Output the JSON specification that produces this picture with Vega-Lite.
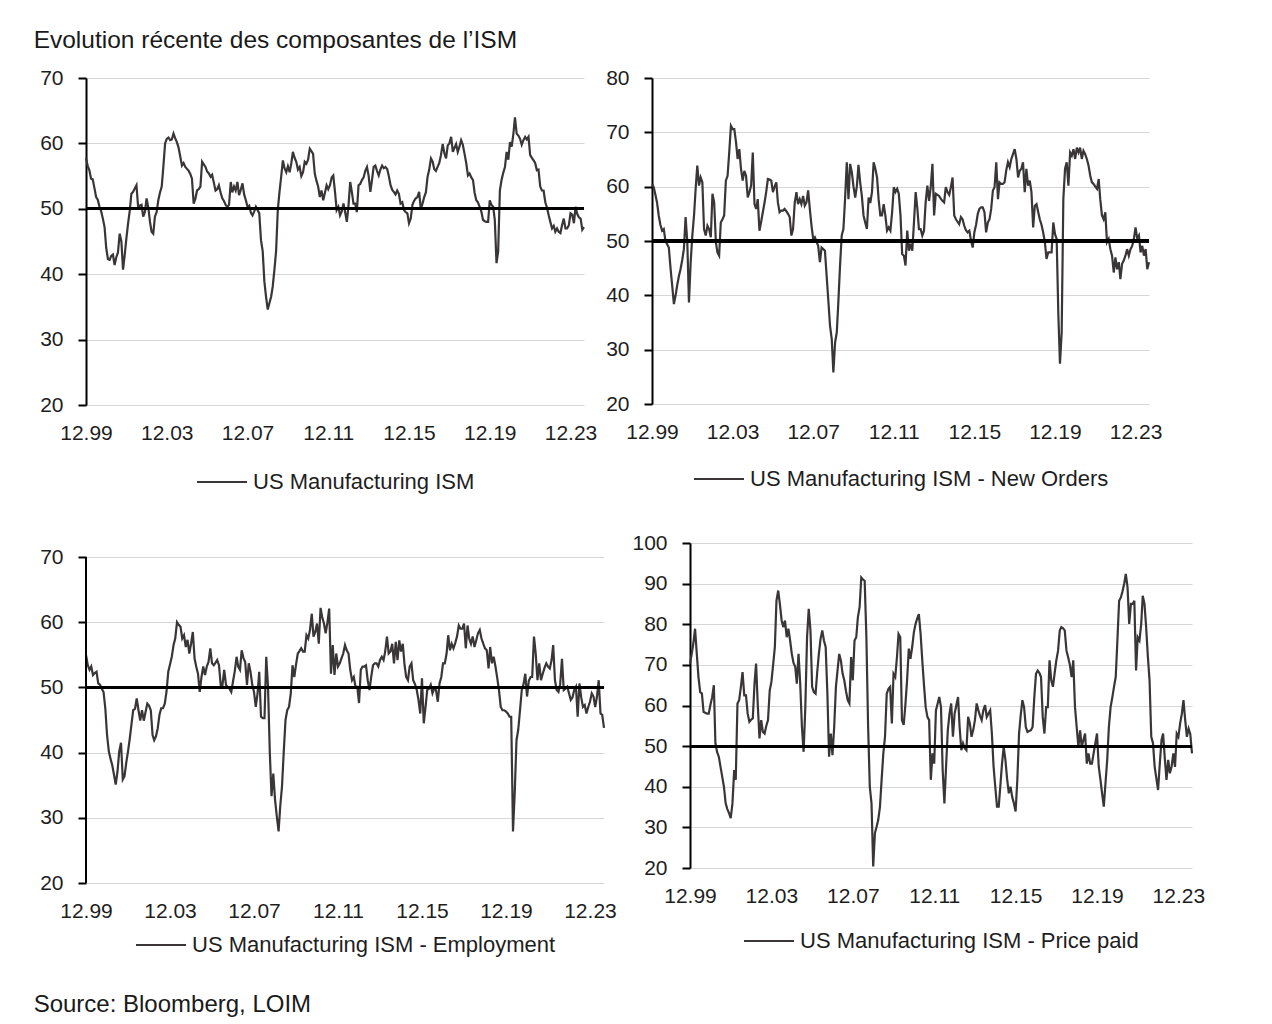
{
"$schema": "https://vega.github.io/schema/vega-lite/v6.json",
"background": "white",
"padding": {"left": 33, "top": 27, "right": 5, "bottom": 5},
"title": {"text": "Evolution récente des composantes de l’ISM", "anchor": "start", "fontSize": 24.5, "fontWeight": "normal", "color": "#1a1a1a", "offset": 14, "dx": 0},
"datasets": {"ism": [
{"d":"1999-12-01","ism":57.8,"no":60.5,"emp":55.0,"pp":70.3},
{"d":"2000-01-01","ism":56.5,"no":59.9,"emp":53.4,"pp":72.7},
{"d":"2000-02-01","ism":55.9,"no":58.5,"emp":52.7,"pp":75.5},
{"d":"2000-03-01","ism":54.6,"no":57.1,"emp":53.2,"pp":78.9},
{"d":"2000-04-01","ism":54.5,"no":54.7,"emp":51.9,"pp":72.7},
{"d":"2000-05-01","ism":53.2,"no":53.0,"emp":52.2,"pp":67.0},
{"d":"2000-06-01","ism":51.8,"no":51.9,"emp":52.4,"pp":63.3},
{"d":"2000-07-01","ism":51.4,"no":52.2,"emp":50.6,"pp":63.0},
{"d":"2000-08-01","ism":50.3,"no":50.0,"emp":50.4,"pp":58.4},
{"d":"2000-09-01","ism":49.6,"no":49.4,"emp":49.8,"pp":58.2},
{"d":"2000-10-01","ism":48.5,"no":48.8,"emp":49.3,"pp":58.0},
{"d":"2000-11-01","ism":47.2,"no":45.0,"emp":46.8,"pp":58.0},
{"d":"2000-12-01","ism":44.0,"no":41.8,"emp":42.7,"pp":60.1},
{"d":"2001-01-01","ism":42.3,"no":38.4,"emp":40.2,"pp":62.0},
{"d":"2001-02-01","ism":42.2,"no":40.0,"emp":39.0,"pp":65.0},
{"d":"2001-03-01","ism":42.8,"no":41.8,"emp":38.1,"pp":50.7},
{"d":"2001-04-01","ism":43.0,"no":43.5,"emp":36.6,"pp":48.5},
{"d":"2001-05-01","ism":41.4,"no":44.8,"emp":35.1,"pp":47.4},
{"d":"2001-06-01","ism":42.6,"no":46.5,"emp":37.1,"pp":44.9},
{"d":"2001-07-01","ism":43.3,"no":48.5,"emp":40.2,"pp":42.5},
{"d":"2001-08-01","ism":46.2,"no":54.4,"emp":41.5,"pp":40.0},
{"d":"2001-09-01","ism":45.0,"no":49.8,"emp":35.9,"pp":35.9},
{"d":"2001-10-01","ism":40.7,"no":38.7,"emp":36.4,"pp":34.5},
{"d":"2001-11-01","ism":43.0,"no":46.1,"emp":38.5,"pp":33.5},
{"d":"2001-12-01","ism":45.5,"no":51.0,"emp":40.2,"pp":32.3},
{"d":"2002-01-01","ism":47.8,"no":54.7,"emp":42.2,"pp":35.9},
{"d":"2002-02-01","ism":49.8,"no":59.9,"emp":44.5,"pp":44.1},
{"d":"2002-03-01","ism":52.3,"no":63.9,"emp":46.5,"pp":41.7},
{"d":"2002-04-01","ism":52.6,"no":60.2,"emp":46.7,"pp":60.5},
{"d":"2002-05-01","ism":53.1,"no":61.7,"emp":48.3,"pp":61.3},
{"d":"2002-06-01","ism":53.6,"no":60.8,"emp":46.5,"pp":64.5},
{"d":"2002-07-01","ism":50.3,"no":52.2,"emp":44.9,"pp":68.2},
{"d":"2002-08-01","ism":50.5,"no":51.0,"emp":46.5,"pp":62.5},
{"d":"2002-09-01","ism":50.6,"no":52.8,"emp":44.9,"pp":62.5},
{"d":"2002-10-01","ism":48.8,"no":52.2,"emp":46.2,"pp":58.0},
{"d":"2002-11-01","ism":49.5,"no":50.7,"emp":47.5,"pp":56.0},
{"d":"2002-12-01","ism":51.6,"no":58.7,"emp":47.2,"pp":56.5},
{"d":"2003-01-01","ism":50.2,"no":57.1,"emp":46.5,"pp":56.8},
{"d":"2003-02-01","ism":48.0,"no":49.8,"emp":42.7,"pp":65.4},
{"d":"2003-03-01","ism":46.5,"no":47.9,"emp":41.9,"pp":70.3},
{"d":"2003-04-01","ism":46.2,"no":47.3,"emp":42.5,"pp":60.0},
{"d":"2003-05-01","ism":48.8,"no":53.4,"emp":43.7,"pp":51.9},
{"d":"2003-06-01","ism":49.5,"no":54.0,"emp":45.8,"pp":56.4},
{"d":"2003-07-01","ism":51.3,"no":54.7,"emp":46.8,"pp":53.5},
{"d":"2003-08-01","ism":52.5,"no":61.1,"emp":46.8,"pp":53.1},
{"d":"2003-09-01","ism":53.4,"no":62.0,"emp":47.5,"pp":55.0},
{"d":"2003-10-01","ism":56.5,"no":66.3,"emp":49.3,"pp":56.4},
{"d":"2003-11-01","ism":60.0,"no":71.2,"emp":52.4,"pp":63.7},
{"d":"2003-12-01","ism":60.7,"no":70.6,"emp":53.5,"pp":65.8},
{"d":"2004-01-01","ism":60.9,"no":70.6,"emp":54.7,"pp":70.0},
{"d":"2004-02-01","ism":60.5,"no":68.2,"emp":56.5,"pp":74.4},
{"d":"2004-03-01","ism":60.6,"no":65.1,"emp":57.5,"pp":85.8},
{"d":"2004-04-01","ism":61.5,"no":66.9,"emp":60.0,"pp":88.3},
{"d":"2004-05-01","ism":60.8,"no":63.3,"emp":59.6,"pp":85.0},
{"d":"2004-06-01","ism":60.2,"no":61.1,"emp":59.3,"pp":81.0},
{"d":"2004-07-01","ism":59.4,"no":62.9,"emp":57.5,"pp":79.3},
{"d":"2004-08-01","ism":58.0,"no":62.0,"emp":58.0,"pp":80.9},
{"d":"2004-09-01","ism":56.6,"no":58.0,"emp":56.2,"pp":76.8},
{"d":"2004-10-01","ism":57.0,"no":59.0,"emp":57.3,"pp":78.9},
{"d":"2004-11-01","ism":56.4,"no":60.2,"emp":55.2,"pp":76.0},
{"d":"2004-12-01","ism":56.1,"no":66.3,"emp":56.7,"pp":72.7},
{"d":"2005-01-01","ism":55.8,"no":56.8,"emp":58.5,"pp":70.5},
{"d":"2005-02-01","ism":55.3,"no":55.9,"emp":54.4,"pp":69.5},
{"d":"2005-03-01","ism":54.6,"no":57.7,"emp":53.2,"pp":65.4},
{"d":"2005-04-01","ism":50.8,"no":51.9,"emp":52.1,"pp":72.7},
{"d":"2005-05-01","ism":51.5,"no":53.5,"emp":49.3,"pp":65.4},
{"d":"2005-06-01","ism":52.8,"no":55.3,"emp":51.6,"pp":54.7},
{"d":"2005-07-01","ism":53.0,"no":57.0,"emp":53.2,"pp":48.6},
{"d":"2005-08-01","ism":53.4,"no":59.0,"emp":51.9,"pp":59.6},
{"d":"2005-09-01","ism":57.2,"no":61.4,"emp":53.2,"pp":76.8},
{"d":"2005-10-01","ism":56.8,"no":61.3,"emp":53.9,"pp":83.8},
{"d":"2005-11-01","ism":56.4,"no":61.1,"emp":56.0,"pp":78.5},
{"d":"2005-12-01","ism":55.7,"no":59.0,"emp":53.7,"pp":64.6},
{"d":"2006-01-01","ism":55.4,"no":60.0,"emp":53.4,"pp":63.3},
{"d":"2006-02-01","ism":54.9,"no":60.8,"emp":53.8,"pp":62.9},
{"d":"2006-03-01","ism":55.2,"no":57.1,"emp":54.2,"pp":68.0},
{"d":"2006-04-01","ism":54.0,"no":55.3,"emp":53.4,"pp":72.7},
{"d":"2006-05-01","ism":52.8,"no":55.6,"emp":50.4,"pp":76.4},
{"d":"2006-06-01","ism":53.0,"no":55.6,"emp":50.4,"pp":78.5},
{"d":"2006-07-01","ism":53.6,"no":55.9,"emp":52.7,"pp":76.0},
{"d":"2006-08-01","ism":52.5,"no":55.5,"emp":50.4,"pp":74.4},
{"d":"2006-09-01","ism":51.6,"no":55.0,"emp":50.0,"pp":62.9},
{"d":"2006-10-01","ism":51.2,"no":54.4,"emp":49.8,"pp":47.4},
{"d":"2006-11-01","ism":50.6,"no":51.0,"emp":49.3,"pp":53.1},
{"d":"2006-12-01","ism":50.3,"no":52.2,"emp":50.9,"pp":47.8},
{"d":"2007-01-01","ism":50.6,"no":57.1,"emp":52.5,"pp":54.7},
{"d":"2007-02-01","ism":54.1,"no":59.0,"emp":54.7,"pp":64.6},
{"d":"2007-03-01","ism":52.5,"no":56.8,"emp":53.2,"pp":68.5},
{"d":"2007-04-01","ism":53.4,"no":57.7,"emp":52.7,"pp":72.7},
{"d":"2007-05-01","ism":52.8,"no":56.8,"emp":55.7,"pp":71.1},
{"d":"2007-06-01","ism":54.1,"no":58.3,"emp":54.5,"pp":67.8},
{"d":"2007-07-01","ism":52.1,"no":56.5,"emp":53.9,"pp":66.2},
{"d":"2007-08-01","ism":52.9,"no":57.1,"emp":50.4,"pp":63.5},
{"d":"2007-09-01","ism":53.9,"no":59.3,"emp":53.7,"pp":61.3},
{"d":"2007-10-01","ism":52.2,"no":55.9,"emp":52.4,"pp":60.5},
{"d":"2007-11-01","ism":51.3,"no":52.8,"emp":50.4,"pp":71.9},
{"d":"2007-12-01","ism":50.3,"no":50.4,"emp":49.3,"pp":66.2},
{"d":"2008-01-01","ism":50.5,"no":50.7,"emp":47.0,"pp":76.0},
{"d":"2008-02-01","ism":49.4,"no":49.8,"emp":49.1,"pp":76.8},
{"d":"2008-03-01","ism":49.0,"no":49.1,"emp":52.4,"pp":81.7},
{"d":"2008-04-01","ism":49.6,"no":46.1,"emp":45.5,"pp":84.2},
{"d":"2008-05-01","ism":50.3,"no":48.8,"emp":45.3,"pp":91.5},
{"d":"2008-06-01","ism":49.8,"no":48.5,"emp":45.3,"pp":91.0},
{"d":"2008-07-01","ism":49.3,"no":48.2,"emp":54.7,"pp":90.7},
{"d":"2008-08-01","ism":45.2,"no":43.6,"emp":50.1,"pp":76.8},
{"d":"2008-09-01","ism":43.5,"no":39.0,"emp":40.0,"pp":54.7},
{"d":"2008-10-01","ism":38.9,"no":34.4,"emp":33.3,"pp":40.0},
{"d":"2008-11-01","ism":36.5,"no":32.0,"emp":36.8,"pp":35.9},
{"d":"2008-12-01","ism":34.6,"no":25.8,"emp":32.8,"pp":20.4},
{"d":"2009-01-01","ism":35.6,"no":31.3,"emp":30.2,"pp":28.6},
{"d":"2009-02-01","ism":36.6,"no":33.2,"emp":27.9,"pp":30.2},
{"d":"2009-03-01","ism":38.1,"no":38.7,"emp":31.7,"pp":31.8},
{"d":"2009-04-01","ism":40.7,"no":45.5,"emp":34.8,"pp":35.0},
{"d":"2009-05-01","ism":43.5,"no":51.0,"emp":40.0,"pp":41.7},
{"d":"2009-06-01","ism":49.8,"no":52.2,"emp":45.0,"pp":48.2},
{"d":"2009-07-01","ism":52.5,"no":57.7,"emp":46.5,"pp":52.3},
{"d":"2009-08-01","ism":54.9,"no":64.5,"emp":47.0,"pp":62.9},
{"d":"2009-09-01","ism":57.4,"no":57.7,"emp":49.1,"pp":64.1},
{"d":"2009-10-01","ism":56.2,"no":64.2,"emp":53.4,"pp":64.6},
{"d":"2009-11-01","ism":55.6,"no":62.6,"emp":51.6,"pp":55.6},
{"d":"2009-12-01","ism":56.5,"no":60.0,"emp":53.5,"pp":67.8},
{"d":"2010-01-01","ism":55.6,"no":58.0,"emp":55.2,"pp":67.0},
{"d":"2010-02-01","ism":57.0,"no":60.2,"emp":55.6,"pp":72.0},
{"d":"2010-03-01","ism":58.7,"no":64.0,"emp":56.0,"pp":77.6},
{"d":"2010-04-01","ism":57.8,"no":60.8,"emp":55.5,"pp":76.8},
{"d":"2010-05-01","ism":57.2,"no":58.3,"emp":55.5,"pp":56.4},
{"d":"2010-06-01","ism":56.0,"no":54.7,"emp":58.0,"pp":55.2},
{"d":"2010-07-01","ism":56.4,"no":53.4,"emp":57.5,"pp":60.0},
{"d":"2010-08-01","ism":55.0,"no":52.2,"emp":58.8,"pp":66.2},
{"d":"2010-09-01","ism":55.6,"no":58.0,"emp":61.3,"pp":74.0},
{"d":"2010-10-01","ism":57.2,"no":57.0,"emp":57.8,"pp":71.5},
{"d":"2010-11-01","ism":56.9,"no":59.0,"emp":58.5,"pp":74.4},
{"d":"2010-12-01","ism":57.5,"no":64.5,"emp":59.8,"pp":78.0},
{"d":"2011-01-01","ism":59.2,"no":63.3,"emp":56.7,"pp":80.1},
{"d":"2011-02-01","ism":58.8,"no":61.7,"emp":62.2,"pp":81.5},
{"d":"2011-03-01","ism":58.4,"no":57.7,"emp":60.8,"pp":82.5},
{"d":"2011-04-01","ism":55.4,"no":54.7,"emp":59.8,"pp":77.6},
{"d":"2011-05-01","ism":54.3,"no":54.7,"emp":58.3,"pp":71.1},
{"d":"2011-06-01","ism":53.4,"no":56.8,"emp":60.0,"pp":65.0},
{"d":"2011-07-01","ism":51.8,"no":54.7,"emp":62.1,"pp":59.6},
{"d":"2011-08-01","ism":52.8,"no":51.9,"emp":52.1,"pp":57.2},
{"d":"2011-09-01","ism":51.3,"no":52.5,"emp":56.5,"pp":56.4},
{"d":"2011-10-01","ism":52.4,"no":51.9,"emp":51.9,"pp":41.7},
{"d":"2011-11-01","ism":53.6,"no":55.3,"emp":55.2,"pp":48.2},
{"d":"2011-12-01","ism":53.0,"no":59.9,"emp":53.2,"pp":45.7},
{"d":"2012-01-01","ism":53.6,"no":59.0,"emp":53.7,"pp":58.8},
{"d":"2012-02-01","ism":54.8,"no":59.6,"emp":54.5,"pp":60.5},
{"d":"2012-03-01","ism":55.1,"no":58.7,"emp":55.2,"pp":62.1},
{"d":"2012-04-01","ism":52.6,"no":54.7,"emp":56.5,"pp":59.6},
{"d":"2012-05-01","ism":49.8,"no":47.6,"emp":55.7,"pp":44.1},
{"d":"2012-06-01","ism":50.3,"no":47.3,"emp":55.2,"pp":35.9},
{"d":"2012-07-01","ism":49.0,"no":45.5,"emp":52.7,"pp":45.0},
{"d":"2012-08-01","ism":49.6,"no":51.9,"emp":51.1,"pp":53.9},
{"d":"2012-09-01","ism":50.8,"no":48.2,"emp":51.6,"pp":58.0},
{"d":"2012-10-01","ism":49.5,"no":49.5,"emp":50.1,"pp":60.5},
{"d":"2012-11-01","ism":48.0,"no":48.2,"emp":50.1,"pp":52.3},
{"d":"2012-12-01","ism":50.5,"no":53.4,"emp":47.6,"pp":58.0},
{"d":"2013-01-01","ism":54.1,"no":59.0,"emp":52.7,"pp":60.0},
{"d":"2013-02-01","ism":52.5,"no":55.9,"emp":53.2,"pp":62.1},
{"d":"2013-03-01","ism":50.8,"no":52.2,"emp":53.2,"pp":54.7},
{"d":"2013-04-01","ism":50.8,"no":52.2,"emp":53.4,"pp":49.0},
{"d":"2013-05-01","ism":49.5,"no":51.0,"emp":51.1,"pp":50.7},
{"d":"2013-06-01","ism":53.6,"no":51.9,"emp":49.6,"pp":49.5},
{"d":"2013-07-01","ism":53.8,"no":57.1,"emp":51.6,"pp":49.0},
{"d":"2013-08-01","ism":54.4,"no":60.2,"emp":53.4,"pp":57.2},
{"d":"2013-09-01","ism":54.8,"no":57.4,"emp":53.7,"pp":55.6},
{"d":"2013-10-01","ism":55.8,"no":59.9,"emp":53.7,"pp":52.3},
{"d":"2013-11-01","ism":56.4,"no":64.2,"emp":53.2,"pp":54.0},
{"d":"2013-12-01","ism":55.0,"no":54.7,"emp":54.2,"pp":56.4},
{"d":"2014-01-01","ism":52.6,"no":58.7,"emp":54.7,"pp":60.5},
{"d":"2014-02-01","ism":54.5,"no":58.5,"emp":54.2,"pp":58.8},
{"d":"2014-03-01","ism":56.4,"no":58.3,"emp":55.5,"pp":57.5},
{"d":"2014-04-01","ism":56.6,"no":57.8,"emp":57.8,"pp":56.4},
{"d":"2014-05-01","ism":55.8,"no":57.4,"emp":55.2,"pp":58.8},
{"d":"2014-06-01","ism":55.1,"no":57.1,"emp":55.5,"pp":60.1},
{"d":"2014-07-01","ism":56.0,"no":59.9,"emp":56.7,"pp":57.2},
{"d":"2014-08-01","ism":56.6,"no":59.0,"emp":53.7,"pp":58.0},
{"d":"2014-09-01","ism":56.2,"no":58.5,"emp":57.0,"pp":58.8},
{"d":"2014-10-01","ism":56.4,"no":59.9,"emp":54.2,"pp":53.1},
{"d":"2014-11-01","ism":56.1,"no":61.7,"emp":57.2,"pp":44.9},
{"d":"2014-12-01","ism":55.0,"no":54.7,"emp":55.5,"pp":40.0},
{"d":"2015-01-01","ism":53.6,"no":54.0,"emp":56.7,"pp":35.1},
{"d":"2015-02-01","ism":52.9,"no":53.5,"emp":53.4,"pp":35.1},
{"d":"2015-03-01","ism":52.6,"no":53.1,"emp":51.6,"pp":40.0},
{"d":"2015-04-01","ism":52.2,"no":54.4,"emp":51.1,"pp":45.7},
{"d":"2015-05-01","ism":52.8,"no":54.0,"emp":53.2,"pp":49.8},
{"d":"2015-06-01","ism":52.3,"no":52.8,"emp":53.7,"pp":46.6},
{"d":"2015-07-01","ism":50.8,"no":52.0,"emp":51.1,"pp":42.0},
{"d":"2015-08-01","ism":51.0,"no":51.6,"emp":50.5,"pp":38.4},
{"d":"2015-09-01","ism":49.8,"no":51.9,"emp":49.6,"pp":40.0},
{"d":"2015-10-01","ism":49.5,"no":50.1,"emp":48.1,"pp":37.5},
{"d":"2015-11-01","ism":49.3,"no":48.8,"emp":46.0,"pp":35.9},
{"d":"2015-12-01","ism":47.8,"no":51.6,"emp":51.4,"pp":33.9},
{"d":"2016-01-01","ism":48.5,"no":53.0,"emp":44.5,"pp":41.7},
{"d":"2016-02-01","ism":50.6,"no":55.0,"emp":47.0,"pp":53.1},
{"d":"2016-03-01","ism":51.2,"no":55.9,"emp":49.6,"pp":57.5},
{"d":"2016-04-01","ism":51.6,"no":56.2,"emp":49.8,"pp":61.3},
{"d":"2016-05-01","ism":51.8,"no":56.2,"emp":50.4,"pp":59.6},
{"d":"2016-06-01","ism":52.6,"no":55.3,"emp":49.1,"pp":54.7},
{"d":"2016-07-01","ism":50.0,"no":51.6,"emp":49.8,"pp":53.5},
{"d":"2016-08-01","ism":50.8,"no":53.4,"emp":49.6,"pp":53.7},
{"d":"2016-09-01","ism":51.8,"no":54.0,"emp":47.8,"pp":53.9},
{"d":"2016-10-01","ism":52.5,"no":55.9,"emp":50.6,"pp":54.7},
{"d":"2016-11-01","ism":54.9,"no":59.3,"emp":51.6,"pp":62.1},
{"d":"2016-12-01","ism":56.0,"no":59.9,"emp":53.7,"pp":67.8},
{"d":"2017-01-01","ism":57.7,"no":64.5,"emp":53.7,"pp":68.6},
{"d":"2017-02-01","ism":57.2,"no":57.7,"emp":55.2,"pp":68.0},
{"d":"2017-03-01","ism":56.1,"no":60.8,"emp":58.0,"pp":67.0},
{"d":"2017-04-01","ism":55.8,"no":60.5,"emp":55.7,"pp":57.2},
{"d":"2017-05-01","ism":56.4,"no":60.5,"emp":56.7,"pp":53.1},
{"d":"2017-06-01","ism":57.0,"no":60.8,"emp":56.0,"pp":59.6},
{"d":"2017-07-01","ism":58.2,"no":63.0,"emp":56.8,"pp":59.6},
{"d":"2017-08-01","ism":59.9,"no":64.5,"emp":57.8,"pp":71.1},
{"d":"2017-09-01","ism":58.5,"no":63.6,"emp":59.5,"pp":66.2},
{"d":"2017-10-01","ism":57.7,"no":65.1,"emp":59.0,"pp":64.6},
{"d":"2017-11-01","ism":59.7,"no":66.0,"emp":59.0,"pp":68.0},
{"d":"2017-12-01","ism":60.0,"no":66.9,"emp":59.8,"pp":71.1},
{"d":"2018-01-01","ism":61.0,"no":65.1,"emp":56.0,"pp":73.5},
{"d":"2018-02-01","ism":58.7,"no":61.7,"emp":59.5,"pp":78.5},
{"d":"2018-03-01","ism":59.3,"no":62.9,"emp":57.5,"pp":79.3},
{"d":"2018-04-01","ism":59.9,"no":63.3,"emp":56.7,"pp":79.0},
{"d":"2018-05-01","ism":58.7,"no":64.5,"emp":57.8,"pp":78.5},
{"d":"2018-06-01","ism":59.5,"no":59.0,"emp":56.2,"pp":73.5},
{"d":"2018-07-01","ism":60.5,"no":63.3,"emp":57.2,"pp":71.9},
{"d":"2018-08-01","ism":59.8,"no":60.2,"emp":58.3,"pp":70.0},
{"d":"2018-09-01","ism":58.4,"no":61.1,"emp":58.8,"pp":67.0},
{"d":"2018-10-01","ism":57.0,"no":59.0,"emp":57.5,"pp":71.1},
{"d":"2018-11-01","ism":55.1,"no":52.5,"emp":56.7,"pp":59.6},
{"d":"2018-12-01","ism":55.4,"no":56.5,"emp":56.0,"pp":54.7},
{"d":"2019-01-01","ism":54.8,"no":56.8,"emp":55.7,"pp":49.8},
{"d":"2019-02-01","ism":54.4,"no":55.3,"emp":52.9,"pp":53.9},
{"d":"2019-03-01","ism":52.5,"no":54.0,"emp":56.2,"pp":49.8},
{"d":"2019-04-01","ism":51.3,"no":53.0,"emp":53.7,"pp":51.5},
{"d":"2019-05-01","ism":51.0,"no":51.6,"emp":54.7,"pp":53.1},
{"d":"2019-06-01","ism":50.3,"no":49.8,"emp":53.2,"pp":45.7},
{"d":"2019-07-01","ism":49.6,"no":46.7,"emp":51.5,"pp":48.2},
{"d":"2019-08-01","ism":48.3,"no":47.9,"emp":49.6,"pp":45.7},
{"d":"2019-09-01","ism":48.1,"no":47.9,"emp":47.0,"pp":45.7},
{"d":"2019-10-01","ism":48.0,"no":47.9,"emp":46.5,"pp":48.2},
{"d":"2019-11-01","ism":48.0,"no":53.4,"emp":46.5,"pp":50.7},
{"d":"2019-12-01","ism":51.3,"no":51.3,"emp":46.3,"pp":53.1},
{"d":"2020-01-01","ism":50.6,"no":50.4,"emp":46.0,"pp":45.0},
{"d":"2020-02-01","ism":50.3,"no":36.3,"emp":45.5,"pp":41.7},
{"d":"2020-03-01","ism":48.3,"no":27.4,"emp":45.5,"pp":38.4},
{"d":"2020-04-01","ism":41.7,"no":33.2,"emp":27.9,"pp":35.1},
{"d":"2020-05-01","ism":43.5,"no":57.7,"emp":33.8,"pp":40.8},
{"d":"2020-06-01","ism":52.8,"no":63.3,"emp":41.9,"pp":46.6},
{"d":"2020-07-01","ism":54.4,"no":64.5,"emp":43.5,"pp":54.7},
{"d":"2020-08-01","ism":55.5,"no":60.2,"emp":46.5,"pp":59.6},
{"d":"2020-09-01","ism":56.4,"no":66.3,"emp":49.6,"pp":62.0},
{"d":"2020-10-01","ism":58.7,"no":65.7,"emp":50.5,"pp":64.6},
{"d":"2020-11-01","ism":57.5,"no":66.9,"emp":52.1,"pp":67.0},
{"d":"2020-12-01","ism":60.2,"no":65.1,"emp":48.6,"pp":76.0},
{"d":"2021-01-01","ism":59.5,"no":67.2,"emp":51.0,"pp":85.8},
{"d":"2021-02-01","ism":61.5,"no":66.3,"emp":51.6,"pp":86.6},
{"d":"2021-03-01","ism":64.0,"no":67.2,"emp":51.6,"pp":88.0},
{"d":"2021-04-01","ism":61.5,"no":65.1,"emp":57.8,"pp":89.9},
{"d":"2021-05-01","ism":61.2,"no":66.6,"emp":55.2,"pp":92.4},
{"d":"2021-06-01","ism":60.7,"no":66.0,"emp":51.1,"pp":89.1},
{"d":"2021-07-01","ism":59.8,"no":65.1,"emp":53.7,"pp":80.1},
{"d":"2021-08-01","ism":60.5,"no":63.9,"emp":51.1,"pp":85.0},
{"d":"2021-09-01","ism":61.0,"no":62.0,"emp":52.1,"pp":85.0},
{"d":"2021-10-01","ism":60.6,"no":60.8,"emp":53.0,"pp":85.8},
{"d":"2021-11-01","ism":61.0,"no":60.5,"emp":53.7,"pp":68.6},
{"d":"2021-12-01","ism":58.2,"no":60.0,"emp":53.2,"pp":76.8},
{"d":"2022-01-01","ism":57.8,"no":59.6,"emp":52.9,"pp":76.0},
{"d":"2022-02-01","ism":57.4,"no":61.4,"emp":54.2,"pp":80.0},
{"d":"2022-03-01","ism":57.0,"no":57.7,"emp":56.5,"pp":87.0},
{"d":"2022-04-01","ism":55.9,"no":54.7,"emp":51.1,"pp":85.0},
{"d":"2022-05-01","ism":56.0,"no":54.0,"emp":49.6,"pp":79.3},
{"d":"2022-06-01","ism":53.4,"no":55.3,"emp":49.3,"pp":72.0},
{"d":"2022-07-01","ism":52.8,"no":49.8,"emp":50.5,"pp":66.2},
{"d":"2022-08-01","ism":52.8,"no":50.4,"emp":54.4,"pp":52.3},
{"d":"2022-09-01","ism":51.0,"no":48.5,"emp":49.6,"pp":50.7},
{"d":"2022-10-01","ism":50.2,"no":47.3,"emp":49.8,"pp":44.9},
{"d":"2022-11-01","ism":49.0,"no":44.2,"emp":50.1,"pp":42.0},
{"d":"2022-12-01","ism":48.0,"no":47.0,"emp":49.1,"pp":39.2},
{"d":"2023-01-01","ism":47.0,"no":44.8,"emp":48.1,"pp":45.7},
{"d":"2023-02-01","ism":47.4,"no":46.1,"emp":48.5,"pp":51.5},
{"d":"2023-03-01","ism":46.5,"no":43.0,"emp":49.6,"pp":53.1},
{"d":"2023-04-01","ism":47.0,"no":45.8,"emp":50.1,"pp":47.0},
{"d":"2023-05-01","ism":46.5,"no":46.4,"emp":45.5,"pp":41.7},
{"d":"2023-06-01","ism":46.3,"no":47.3,"emp":50.6,"pp":46.6},
{"d":"2023-07-01","ism":47.5,"no":48.5,"emp":48.5,"pp":43.3},
{"d":"2023-08-01","ism":48.5,"no":47.3,"emp":47.0,"pp":45.0},
{"d":"2023-09-01","ism":47.0,"no":48.5,"emp":47.3,"pp":48.2},
{"d":"2023-10-01","ism":47.0,"no":49.1,"emp":46.0,"pp":44.9},
{"d":"2023-11-01","ism":47.5,"no":50.4,"emp":47.0,"pp":53.1},
{"d":"2023-12-01","ism":49.3,"no":52.5,"emp":47.8,"pp":52.3},
{"d":"2024-01-01","ism":49.1,"no":50.4,"emp":49.1,"pp":55.6},
{"d":"2024-02-01","ism":47.8,"no":51.0,"emp":48.6,"pp":58.0},
{"d":"2024-03-01","ism":50.3,"no":47.9,"emp":47.0,"pp":61.3},
{"d":"2024-04-01","ism":49.2,"no":49.1,"emp":48.6,"pp":56.4},
{"d":"2024-05-01","ism":48.7,"no":47.3,"emp":51.1,"pp":52.3},
{"d":"2024-06-01","ism":48.5,"no":48.5,"emp":46.0,"pp":54.3},
{"d":"2024-07-01","ism":46.8,"no":44.8,"emp":45.8,"pp":53.0},
{"d":"2024-08-01","ism":47.2,"no":46.1,"emp":43.8,"pp":48.2}
]},
"resolve": {"scale": {"x": "independent", "y": "independent", "color": "independent"}, "legend": {"color": "independent"}},
"spacing": 39,
"vconcat": [
 {
  "hconcat": [
   {
    "width": 498, "height": 327,
    "data": {"name": "ism"},
    "layer": [
     {"mark": {"type": "line", "strokeWidth": 2.2},
      "encoding": {
       "x": {"field": "d", "type": "temporal", "title": null, "scale": {"domain": [{"year": 1999, "month": 12, "date": 1}, {"year": 2024, "month": 8, "date": 1}]},
        "axis": {"format": "%m.%y", "values": [{"year": 1999, "month": 12, "date": 1}, {"year": 2003, "month": 12, "date": 1}, {"year": 2007, "month": 12, "date": 1}, {"year": 2011, "month": 12, "date": 1}, {"year": 2015, "month": 12, "date": 1}, {"year": 2019, "month": 12, "date": 1}, {"year": 2023, "month": 12, "date": 1}]}},
       "y": {"field": "ism", "type": "quantitative", "title": null, "scale": {"domain": [20, 70], "nice": false, "zero": false}, "axis": {"values": [20, 30, 40, 50, 60, 70]}},
       "color": {"datum": "US Manufacturing ISM", "scale": {"range": ["#3a3536"]}, "legend": {"title": null, "offset": 13}}
      }},
     {"mark": {"type": "rule", "color": "#000000", "strokeWidth": 2.5}, "encoding": {"y": {"datum": 50}}},
     {"transform": [{"filter": {"field": "d", "oneOf": ["2003-12-01", "2007-12-01", "2011-12-01", "2015-12-01", "2019-12-01", "2023-12-01"]}}],
      "mark": {"type": "rule", "color": "#000000", "strokeWidth": 2},
      "encoding": {"x": {"field": "d", "type": "temporal"}, "y": {"datum": 50}, "y2": {"datum": 48.9}}}
    ]
   },
   {
    "width": 497, "height": 326,
    "data": {"name": "ism"},
    "layer": [
     {"mark": {"type": "line", "strokeWidth": 2.2},
      "encoding": {
       "x": {"field": "d", "type": "temporal", "title": null, "scale": {"domain": [{"year": 1999, "month": 12, "date": 1}, {"year": 2024, "month": 8, "date": 1}]},
        "axis": {"format": "%m.%y", "values": [{"year": 1999, "month": 12, "date": 1}, {"year": 2003, "month": 12, "date": 1}, {"year": 2007, "month": 12, "date": 1}, {"year": 2011, "month": 12, "date": 1}, {"year": 2015, "month": 12, "date": 1}, {"year": 2019, "month": 12, "date": 1}, {"year": 2023, "month": 12, "date": 1}]}},
       "y": {"field": "no", "type": "quantitative", "title": null, "scale": {"domain": [20, 80], "nice": false, "zero": false}, "axis": {"values": [20, 30, 40, 50, 60, 70, 80]}},
       "color": {"datum": "US Manufacturing ISM - New Orders", "scale": {"range": ["#3a3536"]}, "legend": {"title": null, "offset": 11}}
      }},
     {"mark": {"type": "rule", "color": "#000000", "strokeWidth": 2.5}, "encoding": {"y": {"datum": 50}}},
     {"transform": [{"filter": {"field": "d", "oneOf": ["2003-12-01", "2007-12-01", "2011-12-01", "2015-12-01", "2019-12-01", "2023-12-01"]}}],
      "mark": {"type": "rule", "color": "#000000", "strokeWidth": 2},
      "encoding": {"x": {"field": "d", "type": "temporal"}, "y": {"datum": 50}, "y2": {"datum": 48.7}}}
    ]
   }
  ],
  "spacing": 8,
  "resolve": {"scale": {"x": "independent", "y": "independent", "color": "independent"}, "legend": {"color": "independent"}}
 },
 {
  "title": {"text": "Source: Bloomberg, LOIM", "orient": "bottom", "anchor": "start", "fontSize": 24, "fontWeight": "normal", "color": "#1a1a1a", "offset": 37, "dx": -6},
  "hconcat": [
   {
    "width": 518, "height": 340,
    "data": {"name": "ism"},
    "layer": [
     {"mark": {"type": "line", "strokeWidth": 2.2},
      "encoding": {
       "x": {"field": "d", "type": "temporal", "title": null, "scale": {"domain": [{"year": 1999, "month": 12, "date": 1}, {"year": 2024, "month": 8, "date": 1}]},
        "axis": {"format": "%m.%y", "values": [{"year": 1999, "month": 12, "date": 1}, {"year": 2003, "month": 12, "date": 1}, {"year": 2007, "month": 12, "date": 1}, {"year": 2011, "month": 12, "date": 1}, {"year": 2015, "month": 12, "date": 1}, {"year": 2019, "month": 12, "date": 1}, {"year": 2023, "month": 12, "date": 1}]}},
       "y": {"field": "emp", "type": "quantitative", "title": null, "scale": {"domain": [20, 72.15], "nice": false, "zero": false}, "axis": {"values": [20, 30, 40, 50, 60, 70], "domain": false}},
       "color": {"datum": "US Manufacturing ISM - Employment", "scale": {"range": ["#3a3536"]}, "legend": {"title": null, "offset": -2}}
      }},
     {"mark": {"type": "rule", "color": "#000000", "strokeWidth": 2.5}, "encoding": {"y": {"datum": 50}}},
     {"mark": {"type": "rule", "color": "#000000", "strokeWidth": 2}, "encoding": {"x": {"datum": {"year": 1999, "month": 12, "date": 1}, "type": "temporal"}, "y": {"datum": 20}, "y2": {"datum": 70}}},
     {"transform": [{"filter": {"field": "d", "oneOf": ["2003-12-01", "2007-12-01", "2011-12-01", "2015-12-01", "2019-12-01", "2023-12-01"]}}],
      "mark": {"type": "rule", "color": "#000000", "strokeWidth": 2},
      "encoding": {"x": {"field": "d", "type": "temporal"}, "y": {"datum": 50}, "y2": {"datum": 48.9}}}
    ]
   },
   {
    "width": 502, "height": 325,
    "data": {"name": "ism"},
    "layer": [
     {"mark": {"type": "line", "strokeWidth": 2.2},
      "encoding": {
       "x": {"field": "d", "type": "temporal", "title": null, "scale": {"domain": [{"year": 1999, "month": 12, "date": 1}, {"year": 2024, "month": 8, "date": 1}]},
        "axis": {"format": "%m.%y", "values": [{"year": 1999, "month": 12, "date": 1}, {"year": 2003, "month": 12, "date": 1}, {"year": 2007, "month": 12, "date": 1}, {"year": 2011, "month": 12, "date": 1}, {"year": 2015, "month": 12, "date": 1}, {"year": 2019, "month": 12, "date": 1}, {"year": 2023, "month": 12, "date": 1}]}},
       "y": {"field": "pp", "type": "quantitative", "title": null, "scale": {"domain": [20, 100], "nice": false, "zero": false}, "axis": {"values": [20, 30, 40, 50, 60, 70, 80, 90, 100]}},
       "color": {"datum": "US Manufacturing ISM - Price paid", "scale": {"range": ["#3a3536"]}, "legend": {"title": null, "offset": 9}}
      }},
     {"mark": {"type": "rule", "color": "#000000", "strokeWidth": 2.5}, "encoding": {"y": {"datum": 50}}},
     {"transform": [{"filter": {"field": "d", "oneOf": ["2003-12-01", "2007-12-01", "2011-12-01", "2015-12-01", "2019-12-01", "2023-12-01"]}}],
      "mark": {"type": "rule", "color": "#000000", "strokeWidth": 2},
      "encoding": {"x": {"field": "d", "type": "temporal"}, "y": {"datum": 50}, "y2": {"datum": 48.3}}}
    ]
   }
  ],
  "spacing": 14,
  "resolve": {"scale": {"x": "independent", "y": "independent", "color": "independent"}, "legend": {"color": "independent"}}
 }
],
"config": {
 "font": "Liberation Sans",
 "view": {"stroke": null},
 "axis": {"labelFont": "Liberation Sans", "labelFontSize": 21, "labelColor": "#1e1e1e"},
 "axisY": {"domainColor": "#000000", "domainWidth": 2, "tickColor": "#000000", "tickWidth": 2, "tickSize": 8, "labelPadding": 15, "gridColor": "#d6d6d6", "gridWidth": 1.2},
 "axisX": {"domain": false, "ticks": false, "grid": false, "labelPadding": 17, "labelOverlap": false, "labelFlush": false},
 "legend": {"orient": "bottom", "symbolType": "stroke", "symbolSize": 2500, "symbolStrokeWidth": 2, "labelFont": "Liberation Sans", "labelFontSize": 22, "labelColor": "#1e1e1e", "labelLimit": 0, "labelOffset": 5, "layout": {"bottom": {"anchor": "middle"}}}
}
}
